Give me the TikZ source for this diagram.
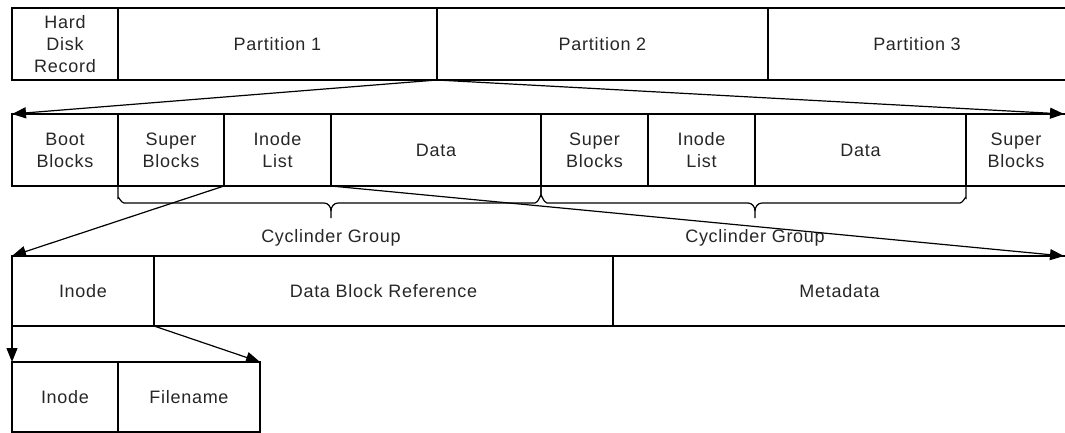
\documentclass[tikz,border=0pt]{standalone}
\usepackage{fontspec}
\setmainfont{Liberation Sans}[LetterSpace=4]
\usetikzlibrary{arrows.meta}
\begin{document}
\begin{tikzpicture}[x=1pt,y=-1pt,
  cell/.style={draw=black, line width=1.3pt, rectangle, inner sep=0pt, outer sep=0pt,
     anchor=north west, align=center, font=\fontsize{18}{22}\selectfont, text=black!85},
  conn/.style={line width=1.2pt, -{Triangle[length=14pt,width=11pt]}},
  bracepath/.style={line width=1.2pt},
  lbl/.style={font=\fontsize{18}{22}\selectfont, text=black!85, inner sep=0pt}]
\useasboundingbox (0,0) rectangle (1065,433);
\clip (0,0) rectangle (1065,433);
% row 1
\node[cell, minimum width=106, minimum height=72] (hdr) at (12,8) {Hard\\Disk\\Record};
\node[cell, minimum width=319, minimum height=72] (p1) at (118,8) {Partition 1};
\node[cell, minimum width=331, minimum height=72] (p2) at (437,8) {Partition 2};
\node[cell, minimum width=298, minimum height=72] (p3) at (768,8) {Partition 3};
% row 2
\node[cell, minimum width=106, minimum height=72] (boot) at (12,114) {Boot\\Blocks};
\node[cell, minimum width=106, minimum height=72] (sba) at (118,114) {Super\\Blocks};
\node[cell, minimum width=107, minimum height=72] (ila) at (224,114) {Inode\\List};
\node[cell, minimum width=210, minimum height=72] (da) at (331,114) {Data};
\node[cell, minimum width=107, minimum height=72] (sbb) at (541,114) {Super\\Blocks};
\node[cell, minimum width=107, minimum height=72] (ilb) at (648,114) {Inode\\List};
\node[cell, minimum width=211, minimum height=72] (db) at (755,114) {Data};
\node[cell, minimum width=100, minimum height=72] (sbc) at (966,114) {Super\\Blocks};
% row 3
\node[cell, minimum width=142, minimum height=70] (ino) at (12,256) {Inode};
\node[cell, minimum width=459, minimum height=70] (dbr) at (154,256) {Data Block Reference};
\node[cell, minimum width=453, minimum height=70] (meta) at (613,256) {Metadata};
% row 4
\node[cell, minimum width=106, minimum height=70] (inob) at (12,362) {Inode};
\node[cell, minimum width=142, minimum height=70] (fn) at (118,362) {Filename};
% braces
\draw[bracepath] (sba.south west) -- ++(0,12) to[out=90,in=180] ++(6,5) -- (324,203)
   to[out=0,in=90] (331,211) -- (331,218);
\draw[bracepath] (da.south east) -- ++(0,10) to[out=90,in=0] ++(-6,7) -- (338,203)
   to[out=180,in=90] (331,211);
\draw[bracepath] (sbb.south west) -- ++(0,10) to[out=90,in=180] ++(6,7) -- (748,203)
   to[out=0,in=90] (755,211) -- (755,218);
\draw[bracepath] (db.south east) -- ++(0,12) to[out=90,in=0] ++(-6,5) -- (762,203)
   to[out=180,in=90] (755,211);
\node[lbl] (cg1) at (331,238) {Cyclinder Group};
\node[lbl] (cg2) at (755,238) {Cyclinder Group};
% connectors
\coordinate (r2end) at (1064,114);
\coordinate (r3end) at (1064,256);
\draw[conn] (p1.south east) -- (boot.north west);
\draw[conn] (p1.south east) -- (r2end);
\draw[conn] (sba.south east) -- (ino.north west);
\draw[conn] (ila.south east) -- (r3end);
\draw[conn] (ino.south west) -- (inob.north west);
\draw[conn] (ino.south east) -- (fn.north east);
\end{tikzpicture}
\end{document}
